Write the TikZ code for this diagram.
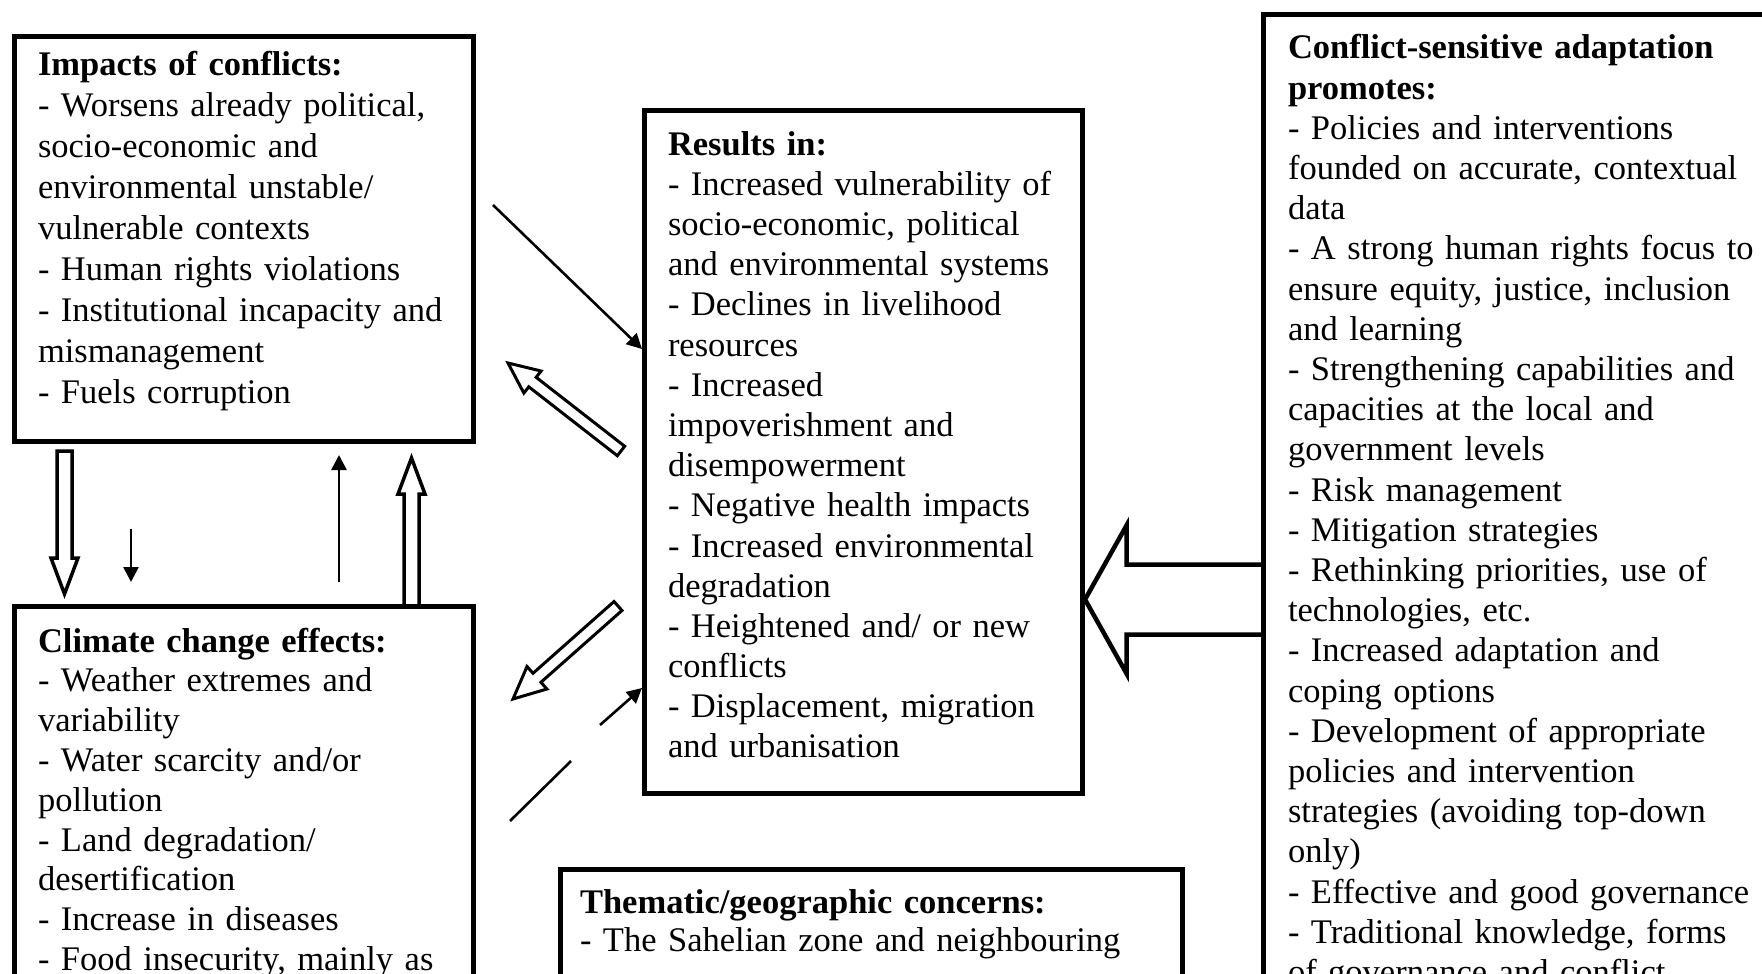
\documentclass[tikz,border=0pt]{standalone}
\usepackage{fontspec}
\setmainfont{Liberation Serif}
\usetikzlibrary{arrows.meta,calc}
\setlength{\parindent}{0pt}
\tikzset{
  boxnode/.style={draw=black, line width=5pt, inner sep=0pt, outer sep=0pt, anchor=north west},
  txt/.style={anchor=base west, inner sep=0pt, outer sep=0pt, text width=720pt, align=left},
  hollowarr/.style={draw=black, line width=3.5pt, line join=miter},
  hollowdiag/.style={hollowarr, line width=3pt},
  bigarr/.style={hollowarr, line width=4.5pt},
  thinarrow/.style={draw=black, line width=2.6pt, -{Triangle[length=15pt,width=15pt]}},
  plainline/.style={draw=black, line width=2.6pt},
}
\newcommand\hollowarrow[6]{%
  \pgfpointdiff{\pgfpointanchor{#2}{center}}{\pgfpointanchor{#3}{center}}%
  \pgfgetlastxy{\hwdx}{\hwdy}%
  \pgfmathsetmacro\hwang{atan2(\hwdy,\hwdx)}%
  \pgfmathsetmacro\hwlen{veclen(\hwdx,\hwdy)}%
  \pgfmathsetmacro\hwbase{\hwlen-#6}%
  \draw[#1, shift={(#2)}, rotate=\hwang] (0,#4) -- (\hwbase,#4) -- (\hwbase,#5) -- (\hwlen,0) -- (\hwbase,-#5) -- (\hwbase,-#4) -- (0,-#4) -- cycle;%
}
\begin{document}
\begin{tikzpicture}[x=1pt,y=-1pt]
\useasboundingbox (0,0) rectangle (1762,974);
\clip (0,0) rectangle (1762,974);
\fill[white] (0,0) rectangle (1762,974);

% boxes
\node[boxnode, minimum width=459.5pt, minimum height=404.5pt] (b1) at (14,37) {};
\node[boxnode, minimum width=459.5pt, minimum height=500pt] (b2) at (14,606) {};
\node[boxnode, minimum width=437.5pt, minimum height=683pt] (b3) at (644.5,110.5) {};
\node[boxnode, minimum width=622pt, minimum height=300pt] (b4) at (560,869) {};
\node[boxnode, minimum width=700pt, minimum height=1100pt] (b5) at (1263.5,14.5) {};

% texts
\node[txt, font=\fontsize{34.5}{40.9}\selectfont] (t1) at (38,76)
 {\textbf{Impacts of conflicts:}\\- Worsens already political,\\socio-economic and\\environmental unstable/\\vulnerable contexts\\- Human rights violations\\- Institutional incapacity and\\mismanagement\\- Fuels corruption};

\node[txt, font=\fontsize{34.5}{39.8}\selectfont] (t2) at (38,652)
 {\textbf{Climate change effects:}\\- Weather extremes and\\variability\\- Water scarcity and/or\\pollution\\- Land degradation/\\desertification\\- Increase in diseases\\- Food insecurity, mainly as};

\node[txt, font=\fontsize{34.5}{40.2}\selectfont] (t3) at (668,155)
 {\textbf{Results in:}\\- Increased vulnerability of\\socio-economic, political\\and environmental systems\\- Declines in livelihood\\resources\\- Increased\\impoverishment and\\disempowerment\\- Negative health impacts\\- Increased environmental\\degradation\\- Heightened and/ or new\\conflicts\\- Displacement, migration\\and urbanisation};

\node[txt, font=\fontsize{34.5}{38}\selectfont] (t4) at (580,913)
 {\textbf{Thematic/geographic concerns:}\\- The Sahelian zone and neighbouring};

\node[txt, font=\fontsize{34.5}{40.2}\selectfont] (t5) at (1288,59)
 {\textbf{Conflict-sensitive adaptation}\\\textbf{promotes:}\\- Policies and interventions\\founded on accurate, contextual\\data\\- A strong human rights focus to\\ensure equity, justice, inclusion\\and learning\\- Strengthening capabilities and\\capacities at the local and\\government levels\\- Risk management\\- Mitigation strategies\\- Rethinking priorities, use of\\technologies, etc.\\- Increased adaptation and\\coping options\\- Development of appropriate\\policies and intervention\\strategies (avoiding top-down\\only)\\- Effective and good governance\\- Traditional knowledge, forms\\of governance and conflict};

% connector end points
\coordinate (aDt) at (64.5,451);
\coordinate (aDh) at (64.5,594);
\coordinate (sDt) at (131,529);
\coordinate (sDh) at (131,582);
\coordinate (uTt) at (339,582);
\coordinate (uTh) at (339,455);
\coordinate (aUt) at (411.5,606);
\coordinate (aUh) at (411.5,458);
\coordinate (d1t) at (493,205);
\coordinate (d1h) at (642,349);
\coordinate (h1t) at (621,451);
\coordinate (h1h) at (508,363);
\coordinate (h2t) at (618,606);
\coordinate (h2h) at (513,699);
\coordinate (d2t) at (600,725);
\coordinate (d2h) at (642,688);
\coordinate (l1a) at (510,821);
\coordinate (l1b) at (571,761);
\coordinate (yb) at (0,599.5);
\coordinate (bigT) at (b5.west |- yb);
\coordinate (bigH) at ($(b3.east |- yb)+(3,0)$);

% connectors
\hollowarrow{hollowarr}{aDt}{aDh}{7.5}{13.5}{36}
\draw[thinarrow] (sDt) -- (sDh);
\draw[thinarrow] (uTt) -- (uTh);
\hollowarrow{hollowarr}{aUt}{aUh}{7.5}{13.5}{36}
\draw[thinarrow] (d1t) -- (d1h);
\hollowarrow{hollowdiag}{h1t}{h1h}{6}{14}{31}
\hollowarrow{hollowdiag}{h2t}{h2h}{6}{15}{32}
\draw[thinarrow] (d2t) -- (d2h);
\draw[plainline] (l1a) -- (l1b);
\hollowarrow{bigarr}{bigT}{bigH}{35}{74}{41.5}
\end{tikzpicture}
\end{document}
